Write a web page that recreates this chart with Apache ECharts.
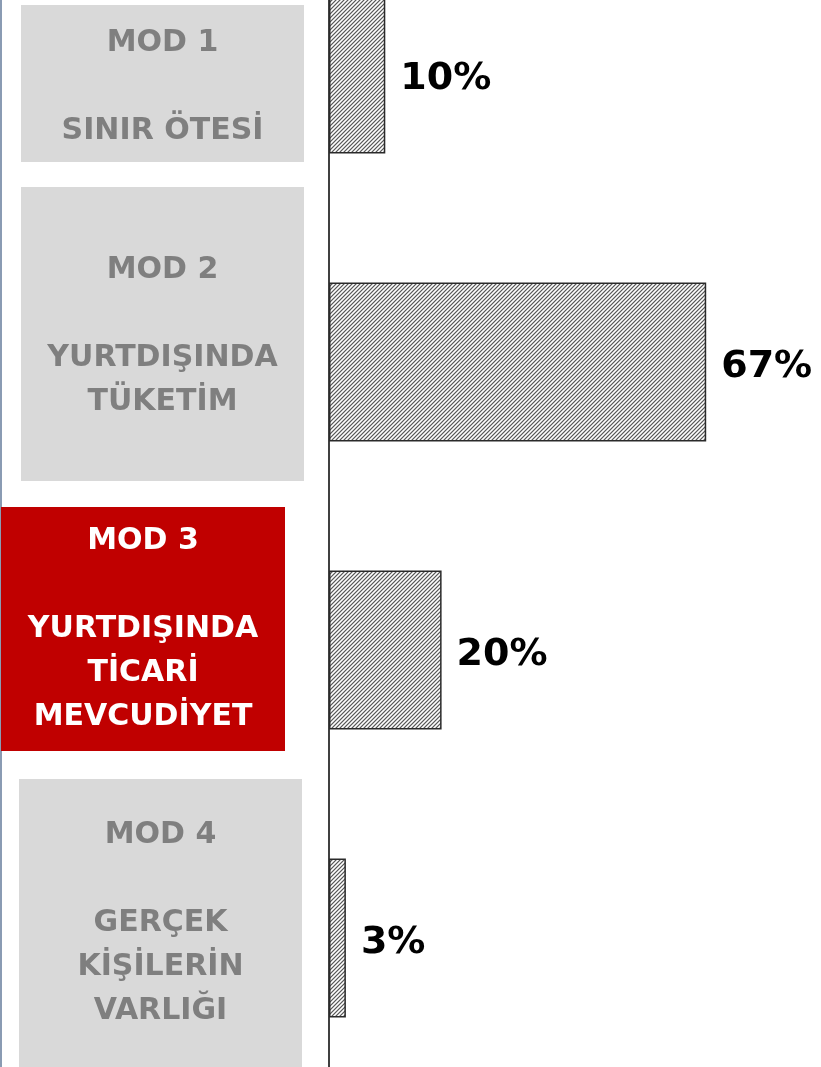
<!DOCTYPE html>
<html>
<head>
<meta charset="utf-8">
<script src="https://cdn.jsdelivr.net/npm/echarts@6/dist/echarts.min.js"></script>
<style>
  html, body { margin: 0; padding: 0; background: #fff; }
  #chart { width: 821px; height: 1067px; }
</style>
</head>
<body>
<div id="chart"></div>
<script>
// data
const categories = ['MOD 1', 'MOD 2', 'MOD 3', 'MOD 4']
const subtitles = [
  ['SINIR ÖTESİ'],
  ['YURTDIŞINDA', 'TÜKETİM'],
  ['YURTDIŞINDA', 'TİCARİ', 'MEVCUDİYET'],
  ['GERÇEK', 'KİŞİLERİN', 'VARLIĞI']
]
const shares = [10, 67, 20, 3]
const highlighted = 'MOD 3'

// hatched fill (/ stripes)
function makeHatch() {
  const c = document.createElement('canvas')
  c.width = 4
  c.height = 4
  const ctx = c.getContext('2d')
  const shades = ['#c4c4c4', '#ffffff', '#c4c4c4', '#5a5a5a']
  for (let x = 0; x < 4; x++) {
    for (let y = 0; y < 4; y++) {
      ctx.fillStyle = shades[(x + y) % 4]
      ctx.fillRect(x, y, 1, 1)
    }
  }
  return c
}

const chart = echarts.init(document.getElementById('chart'))

// label boxes on the left
const boxes = [
  { x: 21, y: 5, w: 283, h: 157, top: 21 },
  { x: 21, y: 187, w: 283, h: 294, top: 248 },
  { x: 1, y: 507, w: 284, h: 244, top: 519 },
  { x: 19, y: 779, w: 283, h: 300, top: 813 }
]
const graphic = [
  {
    type: 'line',
    shape: { x1: 1, y1: 0, x2: 1, y2: 1067 },
    style: { stroke: '#8a9bb3', lineWidth: 2 }
  }
]
categories.forEach((name, i) => {
  const b = boxes[i]
  const hot = name === highlighted
  graphic.push({
    type: 'rect',
    shape: { x: b.x, y: b.y, width: b.w, height: b.h },
    style: { fill: hot ? '#c00000' : '#d9d9d9' }
  })
  graphic.push({
    type: 'text',
    x: b.x + b.w / 2,
    y: b.top,
    style: {
      text: [name, ''].concat(subtitles[i]).join('\n'),
      fill: hot ? '#ffffff' : '#7f7f7f',
      font: 'bold 30px "DejaVu Sans", sans-serif',
      lineHeight: 44,
      align: 'center',
      verticalAlign: 'top'
    }
  })
})

chart.setOption({
  animation: false,
  grid: {
    left: 329,
    width: 563,
    top: -70,
    height: 1152,
    outerBoundsMode: 'none',
    containLabel: false
  },
  xAxis: {
    type: 'value',
    min: 0,
    max: 100,
    show: false
  },
  yAxis: {
    type: 'category',
    data: categories,
    inverse: true,
    axisLine: { show: true, lineStyle: { color: '#000', width: 1.5 } },
    axisTick: { show: false },
    axisLabel: { show: false }
  },
  graphic: graphic,
  series: [
    {
      type: 'bar',
      data: shares,
      barWidth: 159,
      itemStyle: {
        color: { image: makeHatch(), repeat: 'repeat' },
        borderColor: '#2a2a2a',
        borderWidth: 1.5
      },
      label: {
        show: true,
        position: 'right',
        distance: 15,
        offset: [0, 5],
        formatter: '{c}%',
        color: '#000',
        fontSize: 38,
        fontWeight: 'bold',
        fontFamily: 'DejaVu Sans'
      }
    }
  ]
})
</script>
</body>
</html>
